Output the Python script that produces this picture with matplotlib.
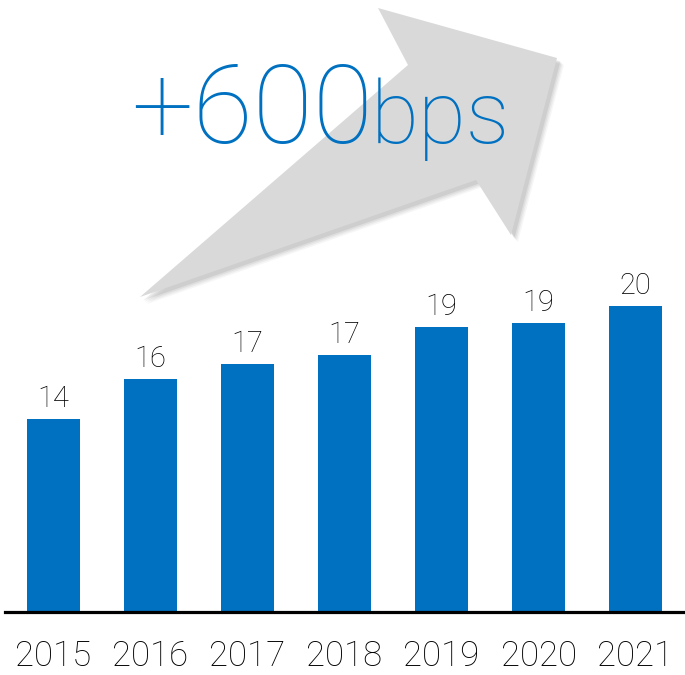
import matplotlib.pyplot as plt
from matplotlib.patches import Polygon

# data
years = ['2015', '2016', '2017', '2018', '2019', '2020', '2021']
values = [14.0, 16.1, 16.9, 17.4, 18.9, 19.1, 20.0]

BLUE = '#0070C0'
GREY = '#D9D9D9'
FONT = ['Roboto', 'DejaVu Sans']

plt.rcParams['font.family'] = FONT

fig = plt.figure(figsize=(6.85, 6.75), dpi=100)

# overlay in pixel coords for the arrow and headline
ov = fig.add_axes([0, 0, 1, 1], zorder=0)
ov.set_xlim(0, 685)
ov.set_ylim(675, 0)
ov.axis('off')

arrow = [(140, 297), (408, 65), (378, 8), (557, 58), (511, 235), (476, 180)]
for i, a in enumerate([0.05, 0.07, 0.09, 0.12]):
    d = 7 - i * 1.2
    shadow = [(x + d, y + d) for x, y in arrow]
    ov.add_patch(Polygon(shadow, closed=True, facecolor='#606060', alpha=a,
                         edgecolor='none'))
ov.add_patch(Polygon(arrow, closed=True, facecolor=GREY, edgecolor='none'))

ov.text(131, 143, '+600', color=BLUE, fontsize=79, ha='left', va='baseline',
        fontweight='light')
ov.text(371, 143, 'bps', color=BLUE, fontsize=63, ha='left', va='baseline',
        fontweight='light')

# bar chart
ax = fig.add_axes([5 / 685, 63 / 675, 680 / 685, 612 / 675], zorder=1)
ax.patch.set_alpha(0)
x = range(len(years))
bars = ax.bar(x, values, width=0.55, color=BLUE)
ax.set_xlim(-0.5, 6.51)
ax.set_ylim(3.78, 36.2)

for b, v in zip(bars, values):
    ax.annotate(f'{v:.0f}', (b.get_x() + b.get_width() / 2, v),
                xytext=(0, 8.6), textcoords='offset points',
                ha='center', va='baseline', fontsize=21, color='#000000',
                fontweight='light')

for i, yr in enumerate(years):
    ax.text(i, -0.089, yr, transform=ax.get_xaxis_transform(),
            ha='center', va='baseline', fontsize=25, color='#000000',
            fontweight='light')

for s in ['top', 'left', 'right']:
    ax.spines[s].set_visible(False)
ax.spines['bottom'].set_linewidth(2.3)
ax.set_xticks([])
ax.set_yticks([])

fig.savefig('out.png', dpi=100)
